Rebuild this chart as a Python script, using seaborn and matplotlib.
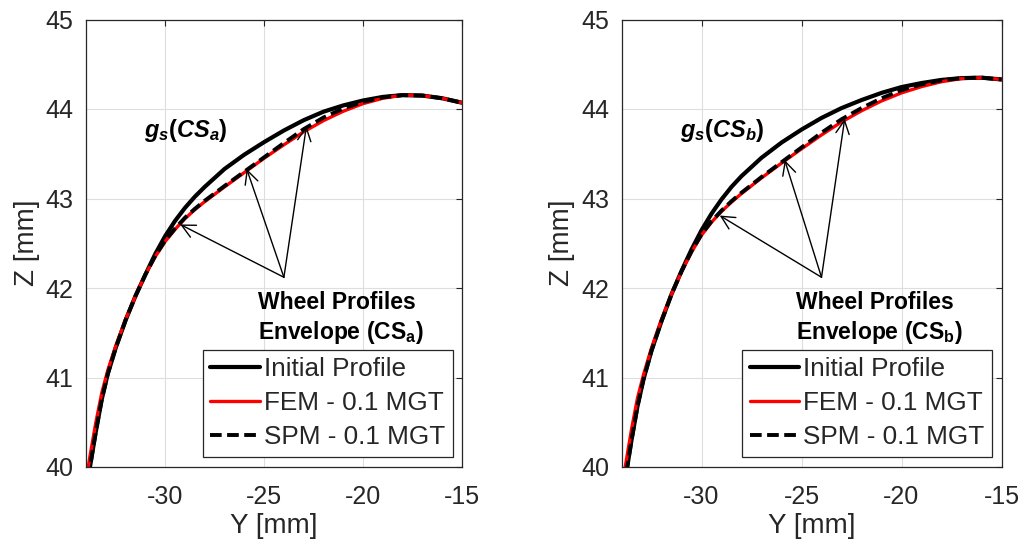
import matplotlib
matplotlib.use("Agg")
import matplotlib.pyplot as plt
import seaborn as sns

# ---------------- data ----------------
y_grid = [-33.9, -33.8, -33.5, -33.2, -32.9, -32.5, -32.0, -31.5, -31.0, -30.5, -30.0,
          -29.5, -29.0, -28.5, -28.0, -27.0, -26.0, -25.0, -24.0, -23.0, -22.0, -21.0,
          -20.0, -19.0, -18.0, -17.0, -16.0, -15.0]

# panel (a)
z_init_a = [39.87, 40.00, 40.40, 40.76, 41.04, 41.33, 41.64, 41.91, 42.15, 42.38, 42.58,
            42.75, 42.895, 43.02, 43.13, 43.33, 43.49, 43.63, 43.76, 43.875, 43.97, 44.04,
            44.095, 44.135, 44.155, 44.15, 44.12, 44.07]
z_fem_a = [39.98, 40.12, 40.50, 40.83, 41.08, 41.35, 41.65, 41.91, 42.15, 42.35, 42.52,
           42.655, 42.775, 42.875, 42.965, 43.13, 43.29, 43.45, 43.60, 43.745, 43.87, 43.975,
           44.06, 44.12, 44.155, 44.15, 44.12, 44.07]
z_spm_a = [39.87, 40.00, 40.40, 40.76, 41.04, 41.33, 41.64, 41.91, 42.15, 42.36, 42.53,
           42.665, 42.785, 42.885, 42.975, 43.14, 43.30, 43.46, 43.62, 43.775, 43.905, 44.005,
           44.08, 44.13, 44.155, 44.15, 44.12, 44.07]

# panel (b)
z_init_b = [39.75, 39.88, 40.30, 40.68, 40.98, 41.30, 41.63, 41.93, 42.19, 42.43, 42.645,
            42.83, 42.99, 43.13, 43.25, 43.455, 43.625, 43.77, 43.90, 44.01, 44.10, 44.18,
            44.245, 44.29, 44.325, 44.345, 44.35, 44.33]
z_fem_b = [39.88, 40.02, 40.42, 40.77, 41.03, 41.33, 41.65, 41.93, 42.18, 42.40, 42.59,
           42.735, 42.855, 42.96, 43.055, 43.23, 43.395, 43.555, 43.71, 43.855, 43.98, 44.09,
           44.18, 44.25, 44.305, 44.34, 44.35, 44.33]
z_spm_b = [39.75, 39.88, 40.30, 40.68, 40.98, 41.30, 41.63, 41.93, 42.185, 42.41, 42.60,
           42.745, 42.865, 42.97, 43.065, 43.24, 43.405, 43.57, 43.735, 43.885, 44.01, 44.12,
           44.21, 44.275, 44.32, 44.345, 44.35, 44.33]

series_names = ["Initial Profile", "FEM - 0.1 MGT", "SPM - 0.1 MGT"]
x_ticks = [-30, -25, -20, -15]
y_ticks = [40, 41, 42, 43, 44, 45]

# annotation anchors (data coords)
arrow_origin = (-24.0, 42.12)
arrow_tips_a = [(-29.24, 42.71), (-25.88, 43.33), (-22.86, 43.81)]
arrow_tips_b = [(-29.09, 42.81), (-25.84, 43.43), (-22.84, 43.89)]

# ---------------- styling ----------------
sns.set_theme(style="whitegrid")
plt.rcParams["font.family"] = ["Liberation Sans", "DejaVu Sans"]
plt.rcParams["axes.unicode_minus"] = False
plt.rcParams["mathtext.fontset"] = "custom"
plt.rcParams["mathtext.rm"] = "Liberation Sans:bold"
plt.rcParams["mathtext.it"] = "Liberation Sans:italic:bold"
plt.rcParams["mathtext.bf"] = "Liberation Sans:bold"

DARK = "#262626"

fig = plt.figure(figsize=(10.24, 5.49), dpi=100)
ax_a = fig.add_axes([86 / 1024, 82 / 549, 376 / 1024, 447.5 / 549])
ax_b = fig.add_axes([621.5 / 1024, 82 / 549, 380 / 1024, 447.5 / 549])


def draw_panel(ax, zi, zf, zs, tips, sub):
    sns.lineplot(x=y_grid, y=zi, ax=ax, color="black", lw=3.0, sort=False,
                 estimator=None, label=series_names[0])
    sns.lineplot(x=y_grid, y=zf, ax=ax, color="#ff0000", lw=2.4, sort=False,
                 estimator=None, label=series_names[1])
    sns.lineplot(x=y_grid, y=zs, ax=ax, color="black", lw=2.8, sort=False,
                 estimator=None, label=series_names[2], linestyle=(0, (3, 1.4)))

    ax.set_xlim(-34, -15)
    ax.set_ylim(40, 45)
    ax.set_xticks(x_ticks)
    ax.set_yticks(y_ticks)
    ax.grid(True, color="#dedede", lw=0.8)
    for s in ax.spines.values():
        s.set_visible(True)
        s.set_color(DARK)
        s.set_linewidth(0.9)
    ax.tick_params(direction="in", length=4, width=0.8, top=True, right=True,
                   colors=DARK, labelsize=18)
    ax.tick_params(axis="x", pad=13)
    ax.tick_params(axis="y", pad=9)
    ax.set_xlabel("Y [mm]", fontsize=20, color=DARK, labelpad=3)
    ax.set_ylabel("Z [mm]", fontsize=20, color=DARK, labelpad=4)

    for t in tips:
        ax.annotate("", xy=t, xytext=arrow_origin,
                    arrowprops=dict(arrowstyle="->", color="black", lw=1.0,
                                    mutation_scale=24, shrinkA=0, shrinkB=0))

    ax.text(-31.05, 43.69, r"$\mathit{g_s(CS_%s)}$" % sub, fontsize=17,
            ha="left", va="baseline", color="black")
    ax.text(-25.3, 41.77, "Wheel Profiles", fontsize=16.5, fontweight="bold",
            ha="left", va="baseline", color="black")
    ax.text(-25.3, 41.43, r"Envelope (CS$_\mathrm{%s}$)" % sub, fontsize=16.5,
            fontweight="bold", ha="left", va="baseline", color="black")

    leg = ax.legend(loc="lower right", bbox_to_anchor=(0.976, 0.022),
                    borderaxespad=0, fontsize=18.8, frameon=True, fancybox=False,
                    framealpha=1, edgecolor=DARK, borderpad=0.3,
                    labelspacing=0.38, handlelength=1.9, handletextpad=0.15)
    leg.get_frame().set_linewidth(0.9)
    for txt in leg.get_texts():
        txt.set_color(DARK)


draw_panel(ax_a, z_init_a, z_fem_a, z_spm_a, arrow_tips_a, "a")
draw_panel(ax_b, z_init_b, z_fem_b, z_spm_b, arrow_tips_b, "b")

fig.savefig("out.png", dpi=100)
